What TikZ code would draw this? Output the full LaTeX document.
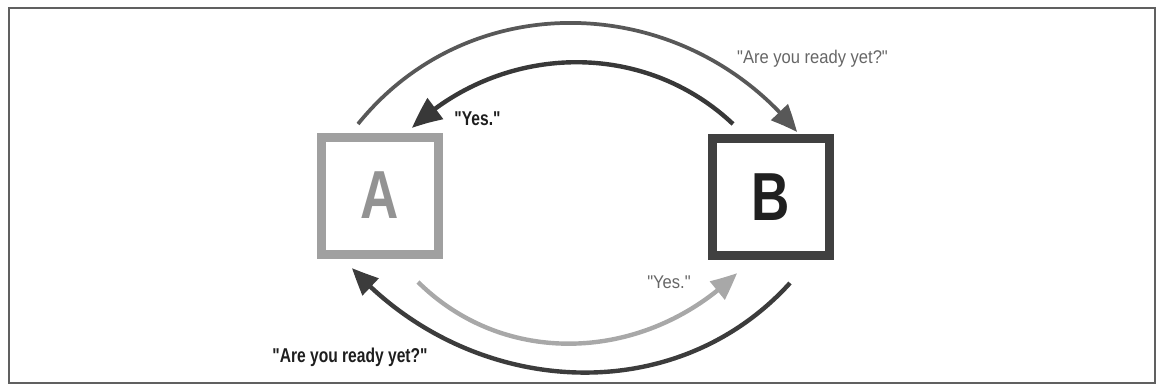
\documentclass[tikz,border=0pt]{standalone}
\usepackage{fontspec}
\setmainfont{Liberation Sans}
\newfontfamily\condreg[FakeStretch=0.9]{Liberation Sans}
\newfontfamily\condbold[FakeStretch=0.78]{Liberation Sans}
\usetikzlibrary{arrows.meta,bending}
\definecolor{frameg}{HTML}{606060}
\definecolor{boxag}{HTML}{A0A0A0}
\definecolor{letterag}{HTML}{939393}
\definecolor{boxbg}{HTML}{404040}
\definecolor{letterbg}{HTML}{202020}
\definecolor{arcto}{HTML}{585858}
\definecolor{arcti}{HTML}{383838}
\definecolor{arcbi}{HTML}{A8A8A8}
\definecolor{arcbo}{HTML}{3C3C3C}
\definecolor{txtg}{HTML}{666666}
\definecolor{txtb}{HTML}{1E1E1E}
\tikzset{
  boxnode/.style={draw, line width=6.75pt, minimum size=87.75pt, inner sep=0pt, fill=white},
  bigletter/.style={font=\condbold\bfseries\fontsize{51}{51}\selectfont},
  arcline/.style={line width=3.3pt, -{Triangle[length=20pt,width=17pt,bend]}},
  normlabel/.style={anchor=base, inner sep=0pt, text=txtg, font=\condreg\fontsize{13.8}{16}\selectfont},
  boldlabel/.style={anchor=base, inner sep=0pt, text=txtb, font=\condbold\bfseries\fontsize{15}{18}\selectfont}
}
\begin{document}
\begin{tikzpicture}[x=0.75pt,y=-0.75pt]
\useasboundingbox (0,0) rectangle (1160,387);
\draw[frameg, line width=1.5pt] (9,8) rectangle (1155,383);

\node[boxnode, draw=boxag, text=letterag, bigletter] (A) at (379.5,195.5) {A};
\node[boxnode, draw=boxbg, text=letterbg, bigletter] (B) at (771,197) {B};

\coordinate (p1) at (358,124);
\coordinate (p2) at (797,132);
\coordinate (p3) at (733,124);
\coordinate (p4) at (412,128);
\coordinate (p5) at (418,282);
\coordinate (p6) at (737,273);
\coordinate (p7) at (790,283);
\coordinate (p8) at (352,268);

\draw[arcline, arcto, line width=2.8pt] (p1) .. controls (471,-16) and (684,-8) .. (p2);
\draw[arcline, arcti, -{Triangle[length=23pt,width=19pt,bend]}] (p3) .. controls (643,39) and (502,43) .. (p4);
\draw[arcline, arcbi] (p5) .. controls (507,370) and (648,361) .. (p6);
\draw[arcline, arcbo] (p7) .. controls (673,412) and (469,397) .. (p8);

\node[normlabel] (t1) at (812.5,63) {"Are you ready yet?"};
\node[boldlabel] (t2) at (477.5,125) {"Yes."};
\node[normlabel] (t3) at (669,288) {"Yes."};
\node[boldlabel] (t4) at (350,362) {"Are you ready yet?"};
\end{tikzpicture}
\end{document}
